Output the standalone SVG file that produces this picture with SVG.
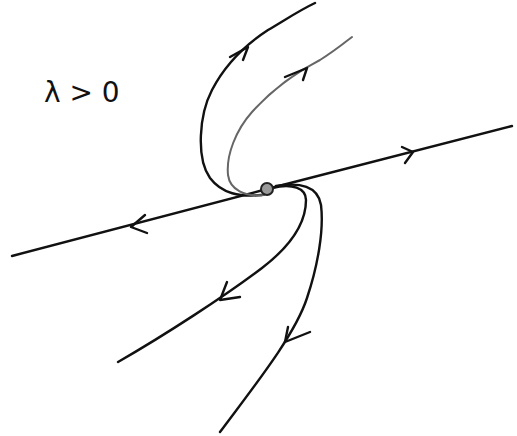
<svg xmlns="http://www.w3.org/2000/svg" width="517" height="436" viewBox="0 0 517 436">
<style>
.t{fill:none;stroke:#111;stroke-width:2.4;stroke-linecap:round;stroke-linejoin:round}
.g{stroke:#666;stroke-width:2}
.a{fill:none;stroke:#111;stroke-width:2.4;stroke-linecap:round;stroke-linejoin:round}
.lbl{font-family:"DejaVu Sans",sans-serif;font-size:28px;fill:#111}
</style>
<rect width="517" height="436" fill="#fff"/>
<g id="label"><text class="lbl" x="44" y="102">λ &gt; 0</text></g>
<g id="connectors">
  <path class="t" d="M12,256 L267,189 L512,126"/>
  <path class="t" d="M262,195 C240,197 222,194 210,178 C196,158 199,115 212,90 C225,65 245,45 268,30 C285,20 300,10 315,3"/>
  <path class="t g" d="M264,195 C245,197 230,190 228,175 C226,155 236,130 252,112 C270,92 295,73 320,60 C333,52 343,44 352,37"/>
  <path class="t" d="M272,188 C292,183 306,188 306,200 C306,222 292,245 262,268 C225,296 165,335 118,362"/>
  <path class="t" d="M276,186 C300,182 318,186 321,205 C324,230 318,265 307,298 C295,335 255,385 220,432"/>
  <path class="a" d="M145,215 L131,227 L147,233"/>
  <path class="a" d="M402,147 L413,152 L405,163"/>
  <path class="a" d="M230,57 L248,47 L243,60"/>
  <path class="a g" d="M285,77 L307,68 L303,80"/>
  <path class="a" d="M227,282 L220,300 L240,297"/>
  <path class="a" d="M288,327 L285,342 L310,332"/>
</g>
<g id="origin"><circle cx="267" cy="189" r="6" fill="#999" stroke="#222" stroke-width="2"/></g>
</svg>
